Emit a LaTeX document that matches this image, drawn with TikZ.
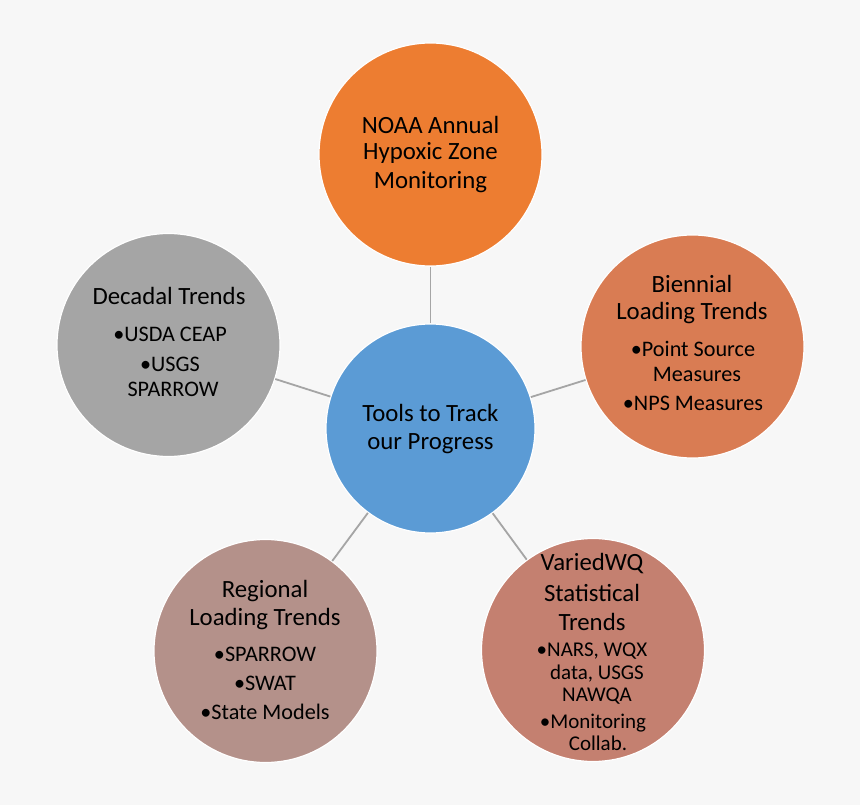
\documentclass[tikz,border=0pt]{standalone}
\usepackage{fontspec}
\setmainfont{Carlito}
\definecolor{bgc}{HTML}{F7F7F7}
\definecolor{cblue}{HTML}{5B9BD5}
\definecolor{corange}{HTML}{ED7D31}
\definecolor{cright}{HTML}{D97C53}
\definecolor{clr}{HTML}{C48070}
\definecolor{cll}{HTML}{B4918A}
\definecolor{cleft}{HTML}{A5A5A5}
\definecolor{clink}{HTML}{A5A5A5}
\newcommand{\hdf}{\fontsize{24.8}{28}\selectfont}
\newcommand{\blf}{\fontsize{22.2}{25}\selectfont}
\newcommand{\blsf}{\fontsize{21}{24}\selectfont}
\tikzset{
  bubble/.style={circle, draw=white, line width=1.2pt, inner sep=0pt, minimum size=223pt},
  hub/.style={circle, draw=white, line width=1.2pt, inner sep=0pt, minimum size=209pt, fill=cblue},
  link/.style={draw=clink, line width=1.8pt},
  txt/.style={anchor=base, inner sep=0pt, text=black},
  hd/.style={txt, font=\hdf},
  bl/.style={txt, font=\blf},
  bls/.style={txt, font=\blsf}
}
\begin{document}
\begin{tikzpicture}[x=1pt,y=-1pt]
\fill[bgc] (0,0) rectangle (860,805);
\useasboundingbox (0,0) rectangle (860,805);
% circles
\node[hub] (c) at (430.5,428.5) {};
\node[bubble, fill=corange] (top) at (430.5,154.5) {};
\node[bubble, fill=cright] (rt) at (692.5,346.5) {};
\node[bubble, fill=clr] (lr) at (593,650) {};
\node[bubble, fill=cll] (ll) at (265.5,651) {};
\node[bubble, fill=cleft] (lt) at (168.5,345) {};
% connectors
\draw[link] (c) -- (top);
\draw[link] (c) -- (rt);
\draw[link] (c) -- (lr);
\draw[link] (c) -- (ll);
\draw[link] (c) -- (lt);
% center text
\node[hd] (c1) at (430.5,421.7) {Tools to Track};
\node[hd] (c2) at (430.5,449) {our Progress};
% top
\node[hd] (t1) at (430.5,133.3) {NOAA Annual};
\node[hd] (t2) at (430.5,160) {Hypoxic Zone};
\node[hd] (t3) at (430.5,188.3) {Monitoring};
% right
\node[hd] (r1) at (692,292.7) {Biennial};
\node[hd] (r2) at (692,319.3) {Loading Trends};
\node[bl] (r3) at (693,356.7) {•Point Source};
\node[bl] (r4) at (697,381.7) {Measures};
\node[bl] (r5) at (693,410.7) {•NPS Measures};
% lower right
\node[hd] (q1) at (592,570.7) {VariedWQ};
\node[hd] (q2) at (592,601) {Statistical};
\node[hd] (q3) at (592,630.7) {Trends};
\node[bls] (q4) at (592,656) {•NARS, WQX};
\node[bls] (q5) at (597,679) {data, USGS};
\node[bls] (q6) at (597,701.7) {NAWQA};
\node[bls] (q7) at (593,728) {•Monitoring};
\node[bls] (q8) at (598,750.7) {Collab.};
% lower left
\node[hd] (p1) at (265,597.7) {Regional};
\node[hd] (p2) at (265,625) {Loading Trends};
\node[bl] (p3) at (265,661.7) {•SPARROW};
\node[bl] (p4) at (265,690.7) {•SWAT};
\node[bl] (p5) at (265,719.3) {•State Models};
% left
\node[hd] (s1) at (169,305) {Decadal Trends};
\node[bl] (s2) at (170,341.7) {•USDA CEAP};
\node[bl] (s3) at (170,371) {•USGS};
\node[bl] (s4) at (173,396.7) {SPARROW};
\end{tikzpicture}
\end{document}
